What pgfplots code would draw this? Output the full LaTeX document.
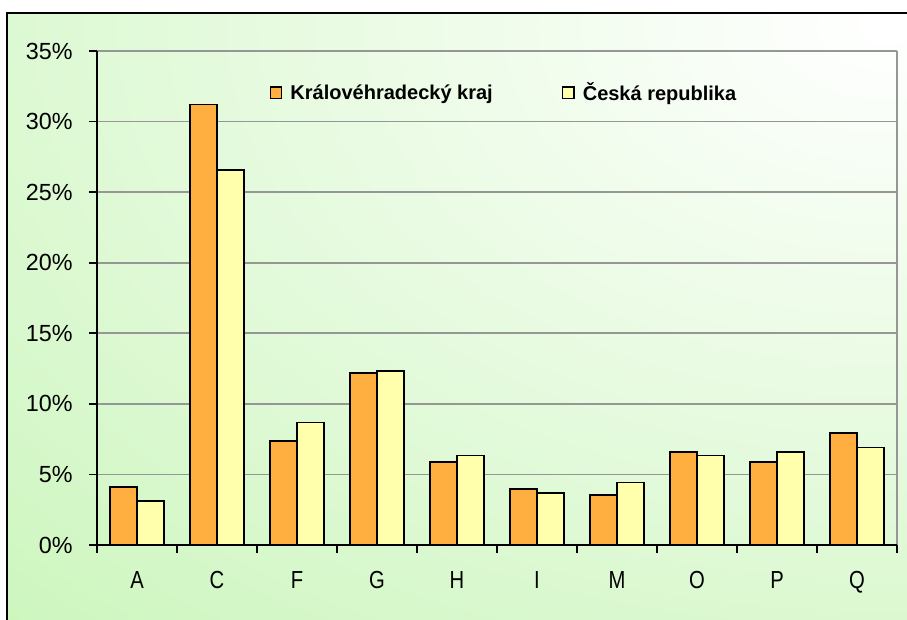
\documentclass[border=0pt]{standalone}
\usepackage{pgfplots}
\pgfplotsset{compat=1.18}
\usepackage{fontspec}
\setmainfont{Liberation Sans}
\definecolor{bggreen}{RGB}{200,245,184}
\definecolor{barorange}{RGB}{255,174,64}
\definecolor{baryellow}{RGB}{255,255,172}
\definecolor{gridgray}{RGB}{150,150,150}
\begin{document}
\begin{tikzpicture}
\useasboundingbox (0pt,0pt) rectangle (680.25pt,464.25pt);
\clip (0pt,0pt) rectangle (680.25pt,464.25pt);
\fill[white] (0pt,0pt) rectangle (680.25pt,464.25pt);
\begin{scope}
\clip (5.25pt,-15pt) rectangle (697.5pt,454.5pt);
\shade[inner color=white, outer color=bggreen] (665pt,445pt) ellipse (1050pt and 680pt);
\end{scope}
\draw[black, line width=1.5pt] (5.25pt,-15pt) -- (5.25pt,454.5pt) -- (697.5pt,454.5pt);
\begin{axis}[
  at={(72.75pt,55.5pt)}, anchor=south west,
  scale only axis, width=600pt, height=370.5pt,
  ybar=0pt, bar width=20.25pt,
  xmin=-0.5, xmax=9.5, ymin=0, ymax=35,
  clip=false,
  xtick={-0.5,0.5,...,9.5},
  xticklabels={A,C,F,G,H,I,M,O,P,Q},
  x tick label as interval,
  ytick={0,5,...,35},
  yticklabels={0\%,5\%,10\%,15\%,20\%,25\%,30\%,35\%},
  xtick pos=bottom, ytick pos=left,
  tick align=outside,
  major tick length=6pt,
  tick style={black, line width=1.2pt},
  yticklabel style={font=\fontsize{17.5pt}{20pt}\selectfont, xshift=-8.7pt},
  xticklabel style={font=\fontsize{18.5pt}{21pt}\selectfont, xscale=0.82, yshift=-10pt},
  axis line style={draw=none},
  ymajorgrids,
  major grid style={gridgray, line width=1.3pt},
  legend style={draw=none, fill=none, inner sep=0pt, outer sep=0pt,
    at={(rel axis cs:0.216,0.915)}, anchor=west,
    font=\bfseries\fontsize{15pt}{18pt}\selectfont,
    /tikz/every even column/.append style={column sep=50pt},
    /tikz/every odd column/.append style={column sep=4pt}},
  legend columns=2,
]
\addplot[fill=barorange, draw=black, line width=1.2pt,
  legend image code/.code={\draw[fill=barorange, draw=black, line width=1pt] (0pt,-4pt) rectangle (8.5pt,4.5pt);}]
  coordinates {(0,4.12) (1,31.2) (2,7.37) (3,12.18) (4,5.88) (5,3.96) (6,3.56) (7,6.61) (8,5.88) (9,7.94)};
\addplot[fill=baryellow, draw=black, line width=1.2pt,
  legend image code/.code={\draw[fill=baryellow, draw=black, line width=1pt] (0pt,-4pt) rectangle (8.5pt,4.5pt);}]
  coordinates {(0,3.10) (1,26.55) (2,8.68) (3,12.33) (4,6.33) (5,3.70) (6,4.43) (7,6.33) (8,6.61) (9,6.92)};
\legend{Královéhradecký kraj, Česká republika}
\draw[gridgray, line width=1.3pt] (rel axis cs:1,0) -- (rel axis cs:1,1);
\draw[black, line width=2pt] (rel axis cs:0,1) -- (rel axis cs:0,0) -- (rel axis cs:1,0);
\end{axis}
\end{tikzpicture}
\end{document}
